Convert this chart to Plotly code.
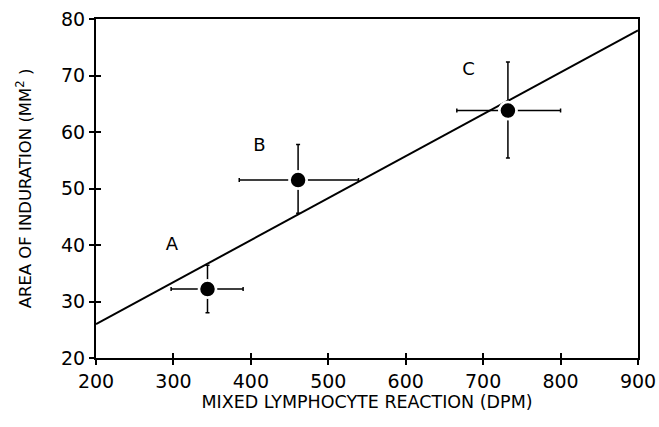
import plotly.graph_objects as go

labels = ["A", "B", "C"]
mlr_dpm = [344, 461, 732]
area_mm2 = [32.2, 51.5, 63.8]
x_err_plus = [46, 78, 68]
x_err_minus = [47, 76, 66]
y_err_plus = [4.2, 6.3, 8.6]
y_err_minus = [4.2, 5.9, 8.4]

label_x = [298, 411, 681]
label_y = [40, 57.5, 70.8]

fit_x = [200, 900]
fit_y = [26.0, 78.0]

x_ticks = [200, 300, 400, 500, 600, 700, 800, 900]
y_ticks = [20, 30, 40, 50, 60, 70, 80]

font_family = "DejaVu Sans, Verdana, sans-serif"

fig = go.Figure()

fig.add_trace(go.Scatter(
    x=fit_x, y=fit_y, mode="lines",
    line=dict(color="black", width=2),
    showlegend=False, hoverinfo="skip",
))

fig.add_trace(go.Scatter(
    x=mlr_dpm, y=area_mm2, mode="markers",
    marker=dict(color="black", size=17, line=dict(color="white", width=2.5)),
    error_x=dict(type="data", symmetric=False, array=x_err_plus,
                 arrayminus=x_err_minus, color="black", thickness=1.5, width=2),
    error_y=dict(type="data", symmetric=False, array=y_err_plus,
                 arrayminus=y_err_minus, color="black", thickness=1.5, width=2),
    showlegend=False,
))

fig.add_trace(go.Scatter(
    x=mlr_dpm, y=area_mm2, mode="markers",
    marker=dict(color="black", size=17, line=dict(color="white", width=2.5)),
    showlegend=False, hoverinfo="skip",
))

fig.add_trace(go.Scatter(
    x=label_x, y=label_y, mode="text", text=labels,
    textfont=dict(family=font_family, size=18, color="black"),
    showlegend=False, hoverinfo="skip",
))

fig.add_trace(go.Scatter(
    x=[fit_x[0]], y=[fit_y[0]], xaxis="x2", yaxis="y2",
    mode="markers", marker=dict(opacity=0), showlegend=False, hoverinfo="skip",
))

axis_common = dict(
    showgrid=False, zeroline=False, showline=True, linecolor="black",
    linewidth=2, ticks="outside", ticklen=5, tickwidth=1.5, tickcolor="black",
    tickfont=dict(family=font_family, size=19, color="black"),
    automargin=False, ticklabeloverflow="allow",
)

fig.update_layout(
    width=659, height=427,
    margin=dict(l=96, r=21, t=19, b=69),
    paper_bgcolor="white", plot_bgcolor="white",
    xaxis=dict(
        range=[200, 900], tickvals=x_ticks, mirror=True,
        title=dict(text="MIXED LYMPHOCYTE REACTION (DPM)",
                   font=dict(family=font_family, size=17.5, color="black"),
                   standoff=0),
        **axis_common,
    ),
    yaxis=dict(
        range=[20, 80], tickvals=y_ticks, mirror=True,
        title=dict(text="AREA OF INDURATION (MM<sup>2</sup> )",
                   font=dict(family=font_family, size=16.5, color="black"),
                   standoff=25),
        **axis_common,
    ),
    xaxis2=dict(
        range=[200, 900], tickvals=x_ticks, overlaying="x", anchor="y",
        showgrid=False, zeroline=False, showticklabels=False,
        ticks="inside", ticklen=5, tickwidth=1.5, tickcolor="black",
    ),
    yaxis2=dict(
        range=[20, 80], tickvals=y_ticks, overlaying="y", anchor="x",
        showgrid=False, zeroline=False, showticklabels=False,
        ticks="inside", ticklen=5, tickwidth=1.5, tickcolor="black",
    ),
)

fig.write_html(
    "out.html",
    config={"displayModeBar": False},
    post_script="document.body.style.margin='0';document.body.style.overflow='hidden';",
)
